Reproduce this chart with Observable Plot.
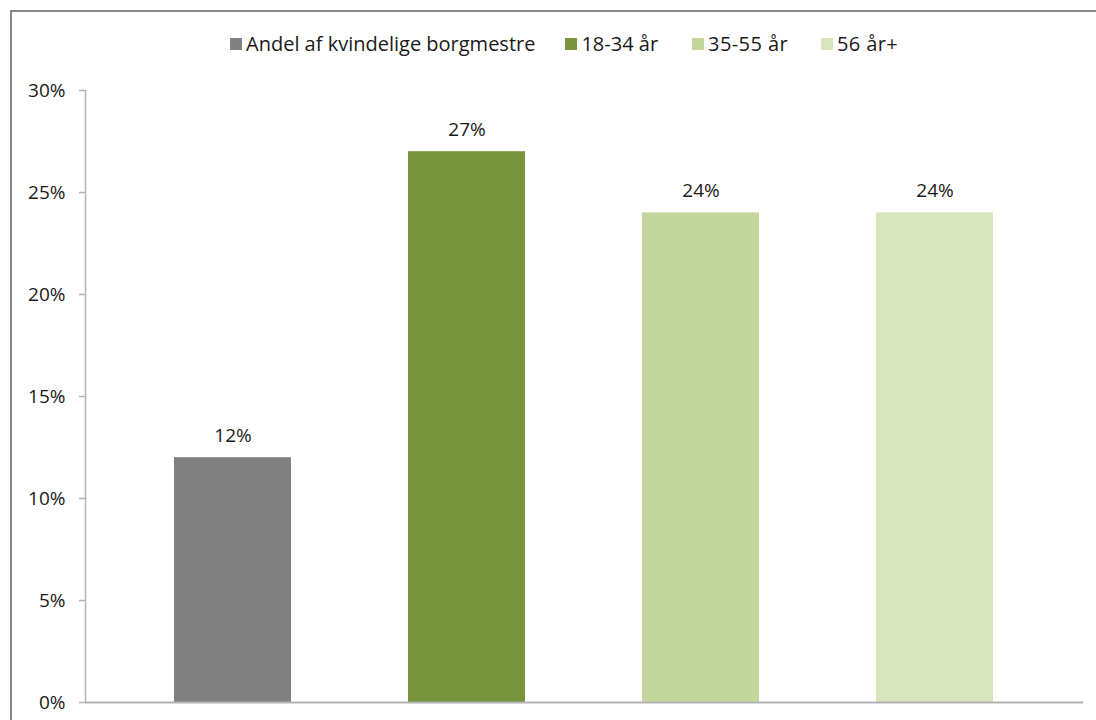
<!DOCTYPE html>
<html>
<head>
<meta charset="utf-8">
<script src="https://cdn.jsdelivr.net/npm/d3@7"></script>
<script src="https://cdn.jsdelivr.net/npm/@observablehq/plot@0.6"></script>
<style>
  html, body { margin: 0; padding: 0; background: #fff; width: 1096px; height: 720px; overflow: hidden; }
  #page { position: relative; width: 1096px; height: 720px; font-family: "Open Sans", "Liberation Sans", sans-serif; }
  #border { position: absolute; left: 10px; top: 10px; width: 1200px; height: 800px; border: 2px solid #878787; box-sizing: border-box; }
  #chart { position: absolute; left: 0; top: 0; }
  #legend { position: absolute; left: 230px; top: 30px; display: flex; align-items: center; gap: 30px; font-size: 20px; color: #1a1a1a; white-space: nowrap; }
  .item { display: flex; align-items: center; gap: 4px; }
  .item:nth-child(3) { margin-left: 4px; }
  .item:nth-child(4) { margin-left: 3px; }
  .item:nth-child(n+3) span:last-child { letter-spacing: 0.4px; }
  .sw { width: 12px; height: 12px; display: inline-block; }
</style>
</head>
<body>
<div id="page">
  <div id="border"></div>
  <div id="chart"></div>
  <div id="legend"></div>
</div>
<script>
const categories = ["Andel af kvindelige borgmestre", "18-34 år", "35-55 år", "56 år+"];
const values = [12, 27, 24, 24];
const colors = ["#808080", "#77933c", "#c3d69b", "#d7e4bd"];
const yTicks = [0, 5, 10, 15, 20, 25, 30];

const data = categories.map((c, i) => ({category: c, value: values[i]}));

const plot = Plot.plot({
  width: 1096,
  height: 720,
  marginTop: 90,
  marginBottom: 18,
  marginLeft: 85,
  marginRight: 13,
  style: {fontFamily: "'Open Sans', 'Liberation Sans', sans-serif", fontSize: "19px", color: "#1a1a1a", background: "transparent"},
  x: {domain: categories, paddingInner: 0.5, paddingOuter: 0.25, insetLeft: 29, insetRight: 30, axis: null},
  y: {domain: [0, 30], axis: null},
  color: {domain: categories, range: colors},
  marks: [
    Plot.barY(data, {x: "category", y: "value", fill: "category"}),
    Plot.text(data, {x: "category", y: "value", text: d => d.value + "%", dy: -22, fontSize: 19, fill: "#1a1a1a"}),
    Plot.axisY({ticks: yTicks, tickFormat: d => d + "%", label: null, tickSize: 6, tickPadding: 14, stroke: "#b3b3b3", strokeWidth: 1.5, fontSize: 19, fill: "#1a1a1a"}),
    Plot.frame({anchor: "left", stroke: "#b3b3b3", strokeWidth: 1.5}),
    Plot.ruleY([0], {stroke: "#b3b3b3", strokeWidth: 2})
  ]
});
document.getElementById("chart").appendChild(plot);

const legend = document.getElementById("legend");
categories.forEach((c, i) => {
  const item = document.createElement("div");
  item.className = "item";
  const sw = document.createElement("span");
  sw.className = "sw";
  sw.style.background = colors[i];
  const t = document.createElement("span");
  t.textContent = c;
  item.appendChild(sw);
  item.appendChild(t);
  legend.appendChild(item);
});
</script>
</body>
</html>
